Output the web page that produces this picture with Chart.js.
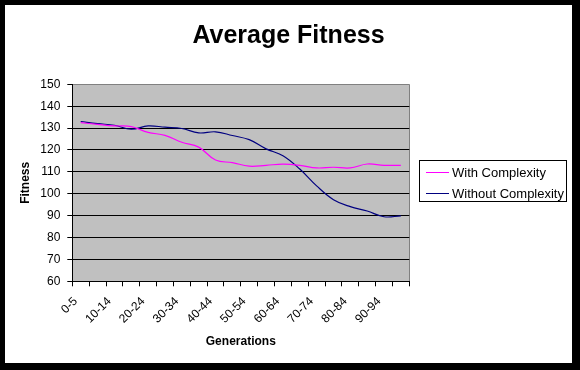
<!DOCTYPE html>
<html>
<head>
<meta charset="utf-8">
<script src="https://cdn.jsdelivr.net/npm/chart.js@4.4.1/dist/chart.umd.min.js"></script>
<style>
  html, body { margin: 0; padding: 0; background: #000; width: 580px; height: 370px; overflow: hidden; }
  #frame { position: absolute; left: 5px; top: 5px; width: 567px; height: 358px; background: #fff; }
  #c { position: absolute; left: 0; top: 0; }
  #title { position: absolute; left: 0; top: 14px; width: 567px; text-align: center; line-height: 30px;
           font-family: "Liberation Sans", Arial, sans-serif; font-size: 25px; font-weight: bold; color: #000; }
  #legend { position: absolute; left: 414px; top: 155px; width: 146px; height: 40px; border: 1px solid #000;
            font-family: "Liberation Sans", Arial, sans-serif; font-size: 13px; color: #000; }
  .item { position: absolute; left: 6px; height: 16px; line-height: 16px; white-space: nowrap; }
  .item span.sw { display: inline-block; width: 23px; height: 0; border-top: 1px solid; vertical-align: middle; margin-right: 3px; position: relative; top: -1px; }
</style>
</head>
<body>
<div id="frame">
  <canvas id="c" width="567" height="358"></canvas>
  <div id="title">Average Fitness</div>
  <div id="legend"></div>
</div>
<script>
const categories = ["0-5","5-9","10-14","15-19","20-24","25-29","30-34","35-39","40-44","45-49",
                    "50-54","55-59","60-64","65-69","70-74","75-79","80-84","85-89","90-94","95-99"];
const withComplexity = [132.5, 131.7, 131.0, 130.7, 128.0, 126.7, 123.5, 121.3, 115.4, 114.2,
                        112.6, 113.0, 113.5, 113.0, 111.8, 112.1, 111.8, 113.6, 113.0, 113.0];
const withoutComplexity = [133.0, 132.0, 131.3, 129.5, 131.0, 130.4, 129.8, 127.8, 128.3, 126.6,
                           124.7, 120.5, 117.4, 111.3, 103.6, 97.3, 94.1, 92.1, 89.5, 89.9];
const seriesNames = ["With Complexity", "Without Complexity"];
const seriesColors = ["#FF00FF", "#000080"];
const yMin = 60, yMax = 150, yStep = 10;

const narrow = '"Liberation Sans Narrow", "Liberation Sans", Arial, sans-serif';
const sans = '"Liberation Sans", Arial, sans-serif';

const plotBg = {
  id: 'plotBg',
  beforeDraw(chart) {
    const a = chart.chartArea, ctx = chart.ctx;
    ctx.save();
    ctx.fillStyle = '#C0C0C0';
    ctx.fillRect(a.left, a.top, a.right - a.left, a.bottom - a.top);
    ctx.strokeStyle = '#808080';
    ctx.lineWidth = 1;
    ctx.beginPath();
    ctx.moveTo(Math.round(a.right) + 0.5, a.top);
    ctx.lineTo(Math.round(a.right) + 0.5, a.bottom);
    ctx.stroke();
    ctx.restore();
  }
};

const chart = new Chart(document.getElementById('c'), {
  type: 'line',
  data: {
    labels: categories,
    datasets: [
      { label: seriesNames[0], data: withComplexity, borderColor: seriesColors[0], backgroundColor: seriesColors[0],
        borderWidth: 1.2, pointRadius: 0, tension: 0.4, fill: false },
      { label: seriesNames[1], data: withoutComplexity, borderColor: seriesColors[1], backgroundColor: seriesColors[1],
        borderWidth: 1.2, pointRadius: 0, tension: 0.4, fill: false }
    ]
  },
  options: {
    responsive: false,
    animation: false,
    devicePixelRatio: 1,
    layout: { padding: { left: 0, right: 162.7, top: 79.3, bottom: 0 } },
    plugins: {
      legend: { display: false },
      tooltip: { enabled: false },
      title: { display: false }
    },
    scales: {
      x: {
        type: 'category',
        offset: true,
        grid: { display: true, offset: true, drawOnChartArea: false, drawTicks: true, tickLength: 5, color: '#000', tickColor: '#000' },
        border: { display: true, color: '#000', width: 1 },
        ticks: {
          autoSkip: false,
          maxRotation: 45, minRotation: 45,
          color: '#000',
          padding: 8,
          labelOffset: -5,
          font: { family: narrow, size: 12 },
          callback: function(v, i) { return i % 2 === 0 ? categories[i] : ''; }
        },
        title: {
          display: true, text: 'Generations', color: '#000',
          font: { family: sans, size: 12, weight: 'bold' },
          padding: { top: 0, bottom: 14 }
        },
        afterFit(scale) { scale.height = 81.7; }
      },
      y: {
        min: yMin, max: yMax,
        grid: {
          color: (ctx) => (ctx.tick && ctx.tick.value === yMax ? '#808080' : '#000'),
          tickColor: '#000', tickLength: 5, drawTicks: true, lineWidth: 1
        },
        border: { display: true, color: '#000', width: 1 },
        ticks: { stepSize: yStep, color: '#000', padding: 7, font: { family: narrow, size: 12 } },
        title: {
          display: true, text: 'Fitness', color: '#000',
          font: { family: sans, size: 12, weight: 'bold' },
          padding: { top: 13.8, bottom: 0 }
        },
        afterFit(scale) { scale.width = 67.3; }
      }
    }
  },
  plugins: [plotBg]
});

// HTML legend built from datasets
const legend = document.getElementById('legend');
chart.data.datasets.forEach((ds, i) => {
  const d = document.createElement('div');
  d.className = 'item';
  d.style.top = (4 + i * 20.5) + 'px';
  const sw = document.createElement('span');
  sw.className = 'sw';
  sw.style.borderTopColor = ds.borderColor;
  d.appendChild(sw);
  d.appendChild(document.createTextNode(ds.label));
  legend.appendChild(d);
});
</script>
</body>
</html>
